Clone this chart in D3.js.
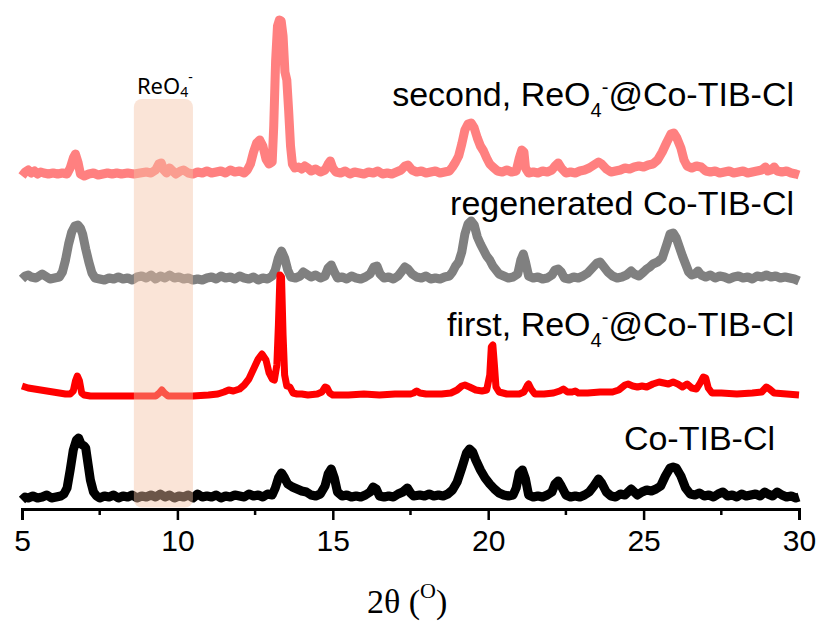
<!DOCTYPE html>
<html>
<head>
<meta charset="utf-8">
<script src="https://cdn.jsdelivr.net/npm/d3@7"></script>
<style>
  html, body { margin: 0; padding: 0; background: #fff; }
  svg { display: block; }
</style>
</head>
<body>
<svg id="chart" width="823" height="622"></svg>
<script>
// XRD patterns of Co-TIB-Cl through a ReO4- capture / regeneration cycle.
// Each pattern: [2theta (deg), intensity above its own baseline (a.u.)]

const pristine = [
  [5.0,0],[5.1,3],[5.2,2],[5.35,4],[5.5,2],[5.65,3],[5.8,5],[5.95,2],[6.1,3],[6.25,4],[6.35,6],
  [6.45,12],[6.55,30],[6.65,50],[6.75,60],[6.82,62],[6.9,56],[7.0,54],[7.05,52],[7.12,37],[7.2,20],
  [7.3,8],[7.4,4],[7.5,2],[7.65,4],[7.8,3],[7.95,5],[8.1,2],[8.25,4],[8.4,3],[8.55,5],[8.7,2],
  [8.85,4],[9.0,3],[9.15,5],[9.3,3],[9.45,6],[9.6,3],[9.75,5],[9.9,2],[10.05,4],[10.2,3],[10.35,5],
  [10.5,2],[10.65,6],[10.8,3],[10.95,4],[11.1,3],[11.25,5],[11.4,2],[11.55,4],[11.7,3],[11.85,5],
  [12.0,4],[12.15,3],[12.3,6],[12.45,4],[12.6,5],[12.75,3],[12.9,6],[13.05,5],[13.15,12],[13.25,22],
  [13.35,27],[13.45,22],[13.55,16],[13.7,13],[13.85,11],[14.0,9],[14.15,8],[14.3,5],[14.45,4],
  [14.6,6],[14.75,14],[14.85,26],[14.95,31],[15.05,22],[15.15,8],[15.3,4],[15.45,5],[15.6,3],
  [15.75,4],[15.9,3],[16.05,5],[16.2,8],[16.3,13],[16.4,11],[16.5,4],[16.65,3],[16.8,4],[16.95,3],
  [17.1,6],[17.25,8],[17.4,12],[17.5,7],[17.6,4],[17.8,5],[17.95,4],[18.1,6],[18.25,4],[18.4,5],
  [18.55,4],[18.7,6],[18.85,10],[19.0,18],[19.15,32],[19.3,47],[19.4,51],[19.5,48],[19.6,40],
  [19.75,30],[19.9,22],[20.05,16],[20.2,11],[20.35,7],[20.5,5],[20.65,4],[20.8,5],[20.9,12],
  [21.0,27],[21.1,30],[21.2,21],[21.3,5],[21.45,3],[21.6,4],[21.75,3],[21.9,5],[22.05,8],[22.15,16],
  [22.25,19],[22.35,14],[22.5,5],[22.65,3],[22.8,4],[22.95,3],[23.1,5],[23.25,8],[23.4,14],
  [23.55,21],[23.65,17],[23.8,8],[23.95,4],[24.1,3],[24.25,6],[24.4,5],[24.5,8],[24.6,11],[24.7,8],
  [24.8,5],[24.95,8],[25.1,10],[25.25,9],[25.4,11],[25.55,14],[25.7,24],[25.85,32],[25.95,33],
  [26.05,32],[26.2,24],[26.35,12],[26.5,6],[26.65,5],[26.8,7],[26.95,4],[27.1,5],[27.25,3],[27.4,6],
  [27.55,8],[27.7,4],[27.85,5],[28.0,3],[28.15,6],[28.3,4],[28.45,5],[28.6,6],[28.75,4],[28.9,8],
  [29.0,6],[29.15,4],[29.3,8],[29.45,5],[29.6,3],[29.75,4],[29.9,2],[30.0,3]
];

const firstLoaded = [
  [5.0,9],[5.2,7],[5.4,6],[5.6,5],[5.8,4],[6.0,3],[6.2,2],[6.4,1],[6.55,1],[6.65,4],[6.72,14],
  [6.78,19],[6.85,14],[6.92,2],[7.0,0],[7.2,-1],[7.5,-1],[8.0,-1],[8.5,-1],[9.0,-1],[9.3,-1],
  [9.42,2],[9.5,5],[9.58,2],[9.7,-1],[10.0,-1],[10.5,-1],[11.0,0],[11.3,1],[11.5,3],[11.65,5],
  [11.8,4],[12.0,6],[12.15,10],[12.3,16],[12.45,26],[12.6,36],[12.72,41],[12.85,35],[12.95,22],
  [13.05,16],[13.12,15],[13.2,30],[13.25,70],[13.3,120],[13.35,118],[13.4,60],[13.45,20],
  [13.52,9],[13.62,8],[13.72,2],[13.85,1],[14.0,1],[14.2,0],[14.5,1],[14.65,3],[14.75,8],
  [14.82,7],[14.9,2],[15.0,0],[15.5,0],[16.0,1],[16.5,0],[17.0,1],[17.5,1],[17.6,2],[17.7,4],
  [17.8,2],[18.0,1],[18.5,1],[18.8,2],[19.0,5],[19.15,9],[19.25,10],[19.4,8],[19.6,5],[19.8,4],
  [19.95,5],[20.05,20],[20.1,48],[20.15,50],[20.2,30],[20.25,8],[20.35,3],[20.6,1],[21.0,1],
  [21.15,3],[21.25,9],[21.3,11],[21.38,6],[21.5,1],[21.8,1],[22.1,2],[22.3,4],[22.42,6],[22.55,3],
  [22.7,3],[22.8,4],[22.9,2],[23.2,2],[23.6,3],[24.0,3],[24.2,5],[24.4,10],[24.5,11],[24.65,9],
  [24.8,8],[24.95,9],[25.1,8],[25.3,11],[25.5,13],[25.65,12],[25.8,11],[25.95,13],[26.1,11],
  [26.25,8],[26.4,11],[26.55,7],[26.7,6],[26.82,12],[26.92,18],[27.0,17],[27.08,7],[27.2,2],
  [27.5,2],[28.0,1],[28.5,2],[28.8,3],[28.95,8],[29.05,6],[29.2,2],[29.6,1],[30.0,0]
];

const regenerated = [
  [5.0,3],[5.1,6],[5.2,7],[5.3,5],[5.45,4],[5.55,6],[5.65,8],[5.75,6],[5.9,3],[6.05,4],[6.2,5],
  [6.3,10],[6.4,22],[6.5,38],[6.6,50],[6.7,56],[6.8,57],[6.88,54],[6.95,48],[7.05,33],[7.15,20],
  [7.25,9],[7.35,4],[7.5,3],[7.65,2],[7.8,4],[7.95,3],[8.1,5],[8.25,3],[8.4,4],[8.55,2],[8.7,5],
  [8.85,6],[9.0,4],[9.15,7],[9.3,3],[9.45,6],[9.6,4],[9.75,7],[9.9,4],[10.05,5],[10.2,3],[10.35,4],
  [10.5,2],[10.65,3],[10.8,2],[10.95,4],[11.1,5],[11.25,3],[11.4,6],[11.55,4],[11.7,5],[11.85,3],
  [12.0,6],[12.15,4],[12.3,3],[12.45,5],[12.6,2],[12.75,4],[12.9,3],[13.05,6],[13.15,12],[13.25,24],
  [13.35,31],[13.45,24],[13.55,12],[13.65,5],[13.8,4],[13.95,6],[14.05,10],[14.15,8],[14.3,5],
  [14.45,7],[14.6,4],[14.75,6],[14.85,14],[14.95,17],[15.05,10],[15.15,4],[15.3,5],[15.45,3],
  [15.6,6],[15.75,4],[15.9,3],[16.05,5],[16.2,8],[16.32,15],[16.42,16],[16.52,8],[16.65,4],
  [16.8,5],[16.95,3],[17.1,6],[17.2,10],[17.32,15],[17.42,13],[17.55,8],[17.7,5],[17.85,4],
  [18.0,6],[18.15,3],[18.3,4],[18.45,3],[18.6,5],[18.75,6],[18.85,10],[18.95,16],[19.05,20],
  [19.15,30],[19.25,48],[19.35,58],[19.45,61],[19.55,57],[19.65,45],[19.75,38],[19.85,32],
  [19.95,26],[20.05,22],[20.15,16],[20.25,12],[20.35,8],[20.5,6],[20.65,4],[20.8,5],[20.95,8],
  [21.05,22],[21.13,28],[21.2,20],[21.3,6],[21.45,4],[21.6,5],[21.75,3],[21.9,4],[22.05,7],
  [22.15,12],[22.25,13],[22.35,10],[22.45,4],[22.6,3],[22.75,5],[22.9,4],[23.05,6],[23.2,9],
  [23.35,14],[23.5,19],[23.6,20],[23.7,16],[23.85,10],[24.0,6],[24.15,4],[24.3,5],[24.45,7],
  [24.6,11],[24.7,8],[24.85,6],[25.0,10],[25.1,13],[25.2,15],[25.3,18],[25.45,20],[25.6,24],
  [25.75,38],[25.85,48],[25.95,49],[26.05,44],[26.15,35],[26.25,26],[26.35,18],[26.45,10],
  [26.55,7],[26.65,8],[26.75,11],[26.85,7],[27.0,5],[27.15,7],[27.3,4],[27.45,6],[27.6,5],
  [27.75,3],[27.9,5],[28.05,6],[28.2,4],[28.35,5],[28.5,3],[28.65,6],[28.8,5],[28.95,7],[29.1,5],
  [29.25,6],[29.4,4],[29.55,5],[29.7,4],[29.85,3],[30.0,1]
];

const secondLoaded = [
  [5.0,0],[5.1,4],[5.2,6],[5.3,3],[5.4,5],[5.5,2],[5.6,4],[5.7,3],[5.85,2],[6.0,3],[6.15,2],
  [6.3,3],[6.45,2],[6.55,8],[6.65,18],[6.72,22],[6.8,14],[6.88,2],[7.0,0],[7.15,2],[7.3,3],
  [7.45,1],[7.6,2],[7.75,3],[7.9,2],[8.05,3],[8.2,2],[8.4,3],[8.6,2],[8.8,3],[9.0,4],[9.15,3],
  [9.3,6],[9.4,12],[9.48,13],[9.56,6],[9.65,3],[9.75,8],[9.85,5],[9.95,2],[10.1,5],[10.2,6],
  [10.35,3],[10.5,2],[10.65,4],[10.8,3],[10.95,5],[11.1,3],[11.25,4],[11.4,5],[11.55,3],[11.7,6],
  [11.85,4],[12.0,5],[12.15,3],[12.25,6],[12.35,12],[12.45,24],[12.55,33],[12.65,36],[12.75,30],
  [12.85,17],[12.95,12],[13.05,14],[13.1,50],[13.16,115],[13.22,150],[13.28,156],[13.34,155],
  [13.4,140],[13.46,104],[13.52,96],[13.58,65],[13.64,30],[13.7,12],[13.78,8],[13.9,9],[14.0,7],
  [14.1,10],[14.2,8],[14.3,5],[14.45,7],[14.6,4],[14.75,6],[14.85,12],[14.92,15],[15.0,8],[15.1,4],
  [15.25,3],[15.4,5],[15.55,2],[15.7,4],[15.85,3],[16.0,2],[16.15,4],[16.3,3],[16.45,5],[16.6,2],
  [16.75,3],[16.9,2],[17.05,4],[17.2,6],[17.32,10],[17.42,11],[17.55,6],[17.7,4],[17.85,5],
  [18.0,3],[18.15,4],[18.3,5],[18.45,3],[18.6,4],[18.75,5],[18.85,9],[18.95,14],[19.05,20],
  [19.15,32],[19.25,46],[19.35,52],[19.45,53],[19.55,48],[19.65,38],[19.75,30],[19.85,25],
  [19.95,18],[20.05,12],[20.15,9],[20.3,5],[20.45,4],[20.6,6],[20.75,4],[20.9,5],[21.0,18],
  [21.08,26],[21.15,24],[21.2,8],[21.3,3],[21.45,4],[21.6,3],[21.75,5],[21.9,4],[22.05,6],
  [22.15,10],[22.25,13],[22.35,8],[22.5,3],[22.65,4],[22.8,3],[22.95,5],[23.1,6],[23.25,8],
  [23.4,11],[23.55,14],[23.65,12],[23.8,7],[23.95,4],[24.1,5],[24.25,6],[24.4,8],[24.55,7],
  [24.7,9],[24.85,10],[25.0,9],[25.15,11],[25.3,12],[25.45,16],[25.6,24],[25.75,34],[25.88,42],
  [25.97,43],[26.07,38],[26.2,28],[26.3,16],[26.4,10],[26.55,8],[26.7,10],[26.85,9],[27.0,5],
  [27.15,4],[27.3,5],[27.45,3],[27.6,4],[27.75,5],[27.9,3],[28.05,4],[28.2,5],[28.35,3],[28.5,4],
  [28.65,5],[28.8,6],[28.92,9],[29.0,5],[29.1,6],[29.2,9],[29.3,5],[29.45,4],[29.6,5],[29.75,3],
  [29.9,2],[30.0,1]
];

// Vertical offsets used to stack the patterns (same a.u. as intensities)
const offsets = { pristine: 0, firstLoaded: 105, regenerated: 218, secondLoaded: 324 };

const xTicks = [5, 10, 15, 20, 25, 30];
const xMinorTicks = [7.5, 12.5, 17.5, 22.5, 27.5];
const reo4Band = [8.6, 10.5];     // 2theta window highlighted for ReO4-
const reo4BandTop = 401;          // a.u.

// ---------------------------------------------------------------------------
const svg = d3.select("#chart");
const x = d3.scaleLinear().domain([5, 30]).range([22, 799]);
const y = d3.scaleLinear().domain([-9, 491]).range([509, 9]);
const axisY = y(-9);

const series = [
  { key: "secondLoaded", data: secondLoaded, color: "#ff8080", width: 9 },
  { key: "regenerated",  data: regenerated,  color: "#808080", width: 9 },
  { key: "firstLoaded",  data: firstLoaded,  color: "#ff0000", width: 7 },
  { key: "pristine",     data: pristine,     color: "#000000", width: 9 }
];

const line = d3.line()
  .x(d => x(d[0]))
  .y(d => y(d[1]));

svg.append("g").selectAll("path")
  .data(series)
  .join("path")
  .attr("d", s => line(s.data.map(d => [d[0], d[1] + offsets[s.key]])))
  .attr("fill", "none")
  .attr("stroke", s => s.color)
  .attr("stroke-width", s => s.width)
  .attr("stroke-linejoin", "round")
  .attr("stroke-linecap", "butt");

// Highlight band for the ReO4- region
svg.append("rect")
  .attr("x", x(reo4Band[0]))
  .attr("y", y(reo4BandTop))
  .attr("width", x(reo4Band[1]) - x(reo4Band[0]))
  .attr("height", axisY - 1.5 - y(reo4BandTop))
  .attr("rx", 8)
  .attr("fill", "rgb(243,193,164)")
  .attr("fill-opacity", 0.44);

svg.append("text")
  .attr("x", x(reo4Band[0]) + 3)
  .attr("y", y(reo4BandTop) - 5)
  .attr("font-family", "'Noto Sans', sans-serif")
  .attr("font-size", 22)
  .attr("fill", "#000")
  .call(t => {
    t.append("tspan").text("ReO");
    t.append("tspan").attr("font-size", 14).attr("dy", 3).text("4");
    t.append("tspan").attr("font-size", 14).attr("dy", -15).text("-");
  });

// X axis
const axis = d3.axisBottom(x).tickValues(xTicks).tickSize(11).tickPadding(10).tickFormat(d3.format("d"));
const gx = svg.append("g").attr("transform", `translate(0,${axisY})`).call(axis);
gx.select(".domain").attr("stroke", "#000").attr("stroke-width", 3);
gx.selectAll(".tick line").attr("stroke", "#000").attr("stroke-width", 2.5);
gx.selectAll(".tick text")
  .attr("font-family", "'Liberation Sans', Arial, sans-serif")
  .attr("font-size", 30)
  .attr("fill", "#000");
gx.selectAll(".minor")
  .data(xMinorTicks)
  .join("line")
  .attr("class", "minor")
  .attr("x1", d => x(d)).attr("x2", d => x(d))
  .attr("y1", 0).attr("y2", 6)
  .attr("stroke", "#000").attr("stroke-width", 2.5);

// Axis title: 2θ (°)
svg.append("text")
  .attr("x", 367)
  .attr("y", 613)
  .attr("font-family", "'Liberation Serif', 'Times New Roman', serif")
  .attr("font-size", 34)
  .attr("fill", "#000")
  .call(t => {
    t.append("tspan").text("2θ (");
    t.append("tspan").attr("font-size", 22).attr("dy", -15).text("O");
    t.append("tspan").attr("dy", 15).text(")");
  });

// Pattern labels
const labelFont = "'Liberation Sans', Arial, sans-serif";
function reLabel(sel, prefix) {
  sel.append("tspan").text(prefix + "ReO");
  sel.append("tspan").attr("font-size", 20).attr("dy", 11).text("4");
  sel.append("tspan").attr("font-size", 20).attr("dy", -23).text("-");
  sel.append("tspan").attr("dy", 12).text("@Co-TIB-Cl");
}
const labels = [
  { key: "secondLoaded", text: "second, ", re: true,  xEnd: 794, y: 106 },
  { key: "regenerated",  text: "regenerated Co-TIB-Cl", re: false, xEnd: 794, y: 215 },
  { key: "firstLoaded",  text: "first, ", re: true,  xEnd: 794, y: 336 },
  { key: "pristine",     text: "Co-TIB-Cl", re: false, xEnd: 775, y: 450 }
];
labels.forEach(l => {
  const t = svg.append("text")
    .attr("x", l.xEnd)
    .attr("y", l.y)
    .attr("text-anchor", "end")
    .attr("font-family", labelFont)
    .attr("font-size", 34)
    .attr("fill", "#000");
  if (l.re) reLabel(t, l.text); else t.text(l.text);
});
</script>
</body>
</html>
